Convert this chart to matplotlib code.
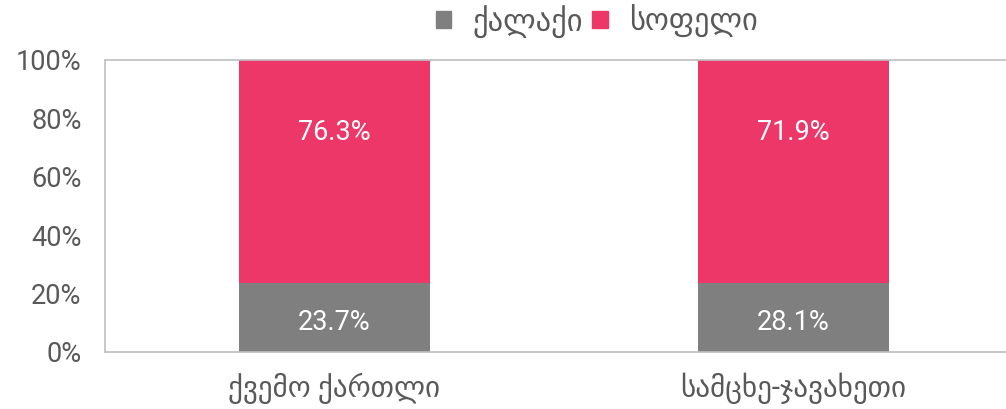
import matplotlib
matplotlib.use("Agg")
import matplotlib.pyplot as plt
from matplotlib.patches import Patch

plt.rcParams['font.family'] = ['Roboto', 'DejaVu Sans']

# data
regions = ['ქვემო ქართლი', 'სამცხე-ჯავახეთი']
series_names = ['ქალაქი', 'სოფელი']
# bar heights as drawn in the reference (both city bars sit at the same height)
city_share = [23.7, 23.7]
village_share = [76.3, 76.3]
# printed labels on the bars
city_labels = ['23.7%', '28.1%']
village_labels = ['76.3%', '71.9%']
y_ticks = [0, 20, 40, 60, 80, 100]

grey = '#7f7f7f'
pink = '#ee3769'
text_col = '#595959'

fig = plt.figure(figsize=(10.06, 4.09), dpi=100)
ax = fig.add_axes([105 / 1006, 57 / 409, 918 / 1006, 292 / 409])

x = list(range(len(regions)))
bar_w = 0.418
ax.bar(x, city_share, width=bar_w, color=grey)
ax.bar(x, village_share, width=bar_w, bottom=city_share, color=pink)

# labels inside the bars (the reference puts them at fixed heights)
for i in x:
    ax.text(i, 10, city_labels[i], ha='center', va='center',
            color='white', fontsize=19.5)
    ax.text(i, 75, village_labels[i], ha='center', va='center',
            color='white', fontsize=19.5)

ax.set_xlim(-0.5, 1.5)
ax.set_ylim(0, 100)
ax.set_yticks(y_ticks)
ax.set_yticklabels([f'{v}%' for v in y_ticks])
ax.set_xticks(x)
ax.set_xticklabels(regions)
ax.tick_params(axis='y', length=0, pad=17, labelsize=19.5, labelcolor=text_col)
ax.tick_params(axis='x', length=0, pad=15, labelsize=21, labelcolor=text_col)

for side in ['top', 'bottom', 'left']:
    ax.spines[side].set_color('#bfbfbf')
    ax.spines[side].set_linewidth(1.2)
ax.spines['right'].set_visible(False)

handles = [Patch(color=grey, label=series_names[0]),
           Patch(color=pink, label=series_names[1])]
fig.legend(handles=handles, loc='center', bbox_to_anchor=(597 / 1006, 1 - 21 / 409),
           ncol=2, frameon=False, fontsize=22, handlelength=0.5, handleheight=0.5,
           handletextpad=0.7, columnspacing=0.3, labelcolor=text_col)

fig.savefig('out.png', dpi=100)
